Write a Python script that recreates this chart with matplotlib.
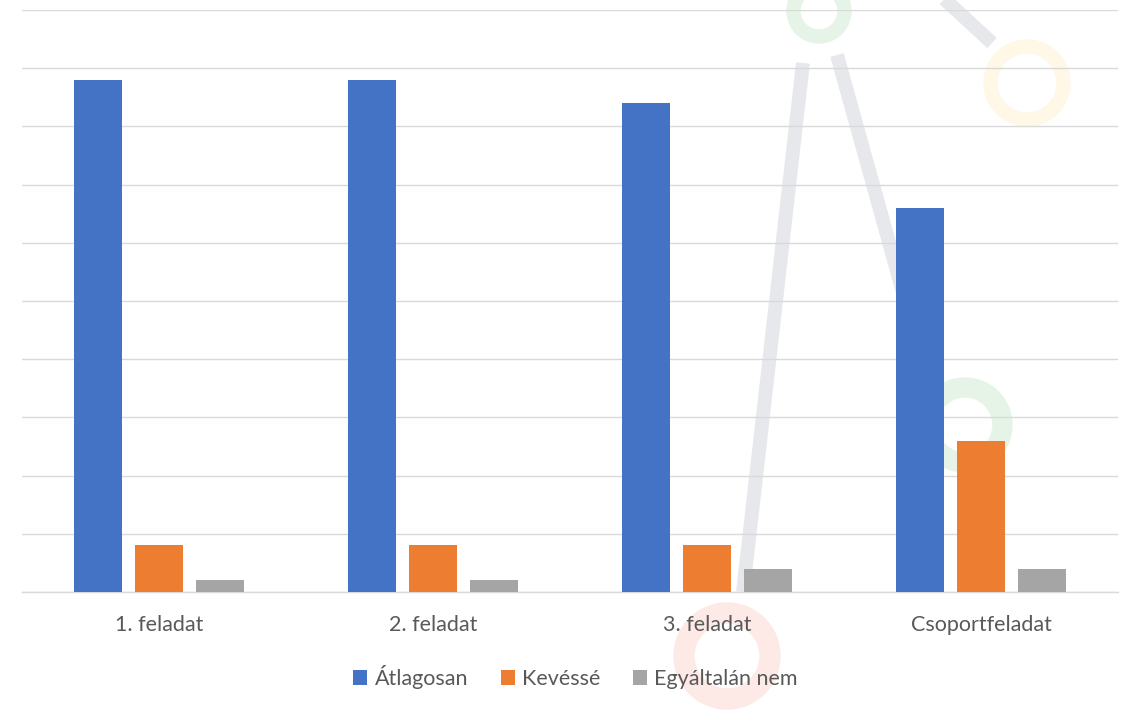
import matplotlib
matplotlib.use("Agg")
import matplotlib.pyplot as plt
import numpy as np
from matplotlib.patches import Wedge
from matplotlib.lines import Line2D

plt.rcParams['font.family'] = ['Lato', 'DejaVu Sans']

categories = ["1. feladat", "2. feladat", "3. feladat", "Csoportfeladat"]
series_names = ["Átlagosan", "Kevéssé", "Egyáltalán nem"]
atlagosan = [88, 88, 84, 66]
kevesse = [8, 8, 8, 26]
egyaltalan = [2, 2, 4, 4]
colors = ["#4472C4", "#ED7D31", "#A5A5A5"]

W, H = 1127, 714
fig = plt.figure(figsize=(W / 100, H / 100), dpi=100)

# decorative faint background watermark
bg = fig.add_axes([0, 0, 1, 1], zorder=0)
bg.set_xlim(0, W)
bg.set_ylim(H, 0)
bg.axis("off")
grey_wm = "#E7E8EC"
bg.add_line(Line2D([803, 743], [63, 592], color=grey_wm, lw=10, solid_capstyle="butt"))
bg.add_line(Line2D([837, 930], [55, 390], color=grey_wm, lw=10, solid_capstyle="butt"))
bg.add_line(Line2D([940, 992], [-5, 43], color=grey_wm, lw=10, solid_capstyle="butt"))
bg.add_patch(Wedge((819, 11), 32, 0, 360, width=13, color="#E6F4E7"))
bg.add_patch(Wedge((1027, 83), 43, 0, 360, width=13, color="#FFF8E6"))
bg.add_patch(Wedge((965, 425), 47, 0, 360, width=19, color="#E6F4E7"))
bg.add_patch(Wedge((727, 656), 53, 0, 360, width=20, color="#FDE9E6"))

ax = fig.add_axes([22 / W, (H - 592) / H, (1118 - 22) / W, (592 - 10) / H], zorder=1)
ax.set_facecolor("none")

x = np.arange(len(categories))
bw = 0.175
off = 0.222
for i, (vals, name) in enumerate(zip([atlagosan, kevesse, egyaltalan], series_names)):
    ax.bar(x + (i - 1) * off, vals, width=bw, color=colors[i], label=name, zorder=3)

ax.set_xlim(-0.5, len(categories) - 0.5)
ax.set_ylim(0, 100)
ax.set_yticks(np.arange(0, 101, 10))
ax.yaxis.grid(True, color="#D9D9D9", linewidth=1.0, zorder=0)
ax.set_axisbelow(True)
ax.tick_params(axis="y", left=False, labelleft=False)
ax.tick_params(axis="x", bottom=False, labelsize=15.5, labelcolor="#595959", pad=13)
ax.set_xticks(x)
ax.set_xticklabels(categories)
for s in ["top", "left", "right"]:
    ax.spines[s].set_visible(False)
ax.spines["bottom"].set_color("#D9D9D9")
ax.spines["bottom"].set_linewidth(1.0)

leg = ax.legend(loc="center", bbox_to_anchor=(0.505, -0.146), ncol=3, frameon=False,
                fontsize=15.5, handlelength=0.65, handleheight=0.65, handletextpad=0.35,
                columnspacing=1.5, labelcolor="#595959")

fig.savefig("out.png", dpi=100, facecolor="white")
